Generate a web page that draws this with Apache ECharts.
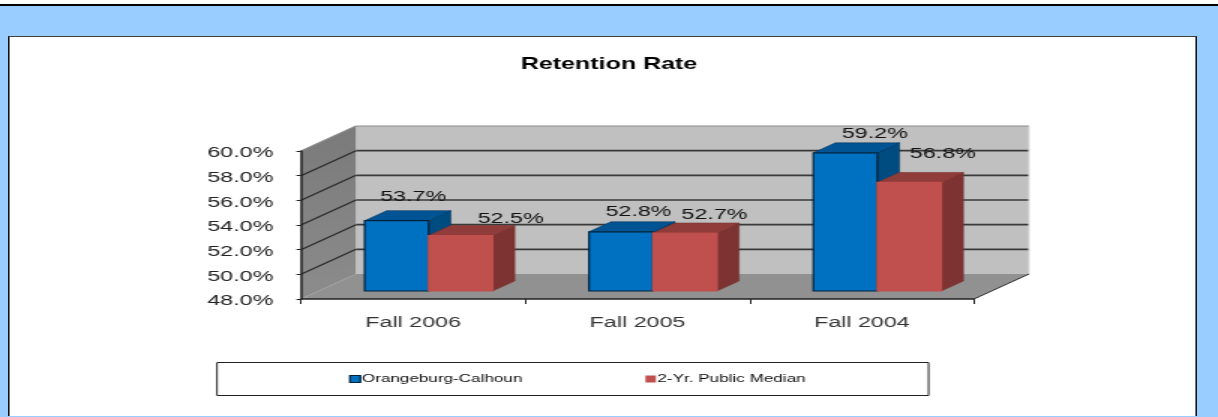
<!DOCTYPE html>
<html>
<head>
<meta charset="utf-8">
<script src="https://cdn.jsdelivr.net/npm/echarts@6/dist/echarts.min.js"></script>
<style>
html,body{margin:0;padding:0;background:#fff;overflow:hidden}
#page{position:absolute;left:0;top:0;width:1218px;height:417px;overflow:hidden;background:#fff}
#band{position:absolute;left:0;top:4px;width:1218px;height:413px;box-sizing:border-box;border-top:2px solid #000;background:#99CCFF}
#panel{position:absolute;left:8px;top:36px;width:1189px;height:380px;box-sizing:border-box;background:#fff;border-top:1px solid #404040;border-left:1px solid #111;border-right:1px solid #111;box-shadow:inset 1px 0 0 #777,inset -1px 0 0 #777}
#chart{position:absolute;left:0;top:0;width:812px;height:417px;transform:scaleX(1.5);transform-origin:0 0}
</style>
</head>
<body>
<div id="page"><div id="band"></div><div id="panel"></div><div id="chart"></div></div>
<script>
const titleText = 'Retention Rate';
const categories = ['Fall 2006', 'Fall 2005', 'Fall 2004'];
const seriesNames = ['Orangeburg-Calhoun', '2-Yr. Public Median'];
const orangeburg = [53.7, 52.8, 59.2];
const publicMedian = [52.5, 52.7, 56.8];
const yTicks = [48, 50, 52, 54, 56, 58, 60];

// The source image is stretched horizontally; the chart is drawn at 1/S width and scaled.
const S = 1.5;
const FONT = '"Liberation Sans", Arial, sans-serif';
const wallDX = 55 / S, wallDY = 25;         // depth of the 3D box
const barOffX = 15.5 / S, barOffY = 8;      // bars stand this far behind the front plane
const barDX = 22 / S, barDY = 10;           // depth of one bar
const barW = 64 / S;

function poly(points, fill, stroke, lw) {
  return { type: 'polygon', shape: { points }, style: { fill, stroke: stroke || null, lineWidth: lw || 0 } };
}
function seg(x1, y1, x2, y2, stroke, lw) {
  return { type: 'line', shape: { x1, y1, x2, y2 }, style: { stroke, lineWidth: lw } };
}

function renderBox(params, api) {
  const c = params.coordSys;
  const L = c.x, R = c.x + c.width, T = c.y, B = c.y + c.height;
  const kids = [
    poly([[L + wallDX, T - wallDY], [R + wallDX, T - wallDY], [R + wallDX, B - wallDY], [L + wallDX, B - wallDY]], '#C0C0C0'),
    poly([[L, B], [L + wallDX, B - wallDY], [R + wallDX, B - wallDY], [R, B]], '#919191'),
    poly([[L, T], [L + wallDX, T - wallDY], [L + wallDX, B - wallDY], [L, B]], {
      type: 'linear', x: 0, y: 0, x2: 0, y2: 1,
      colorStops: [{ offset: 0, color: '#7a7a7a' }, { offset: 1, color: '#8c8c8c' }]
    })
  ];
  yTicks.forEach(t => {
    const y = api.coord([0, t])[1];
    if (t > yTicks[0] && t < yTicks[yTicks.length - 1]) {
      kids.push(seg(L + wallDX, y - wallDY, R + wallDX, y - wallDY, '#3a3a3a', 1.6));
    }
    if (t > yTicks[0]) kids.push(seg(L, y, L + wallDX, y - wallDY, t === yTicks[yTicks.length - 1] ? '#8a8a8a' : '#2a2a2a', 1.2));
  });
  kids.push(seg(L + wallDX, T - wallDY, R + wallDX, T - wallDY, '#8a8a8a', 1));
  kids.push(seg(R + wallDX, T - wallDY, R + wallDX, B - wallDY, '#d8d8d8', 1));
  kids.push(seg(R, B, R + wallDX, B - wallDY, '#2a2a2a', 1));
  return { type: 'group', children: kids };
}

function barRenderer(serieIndex, colors, nudges) {
  return function (params, api) {
    const i = api.value(0), v = api.value(1);
    const bottom = api.coord([i, yTicks[0]]);
    const top = api.coord([i, v]);
    const cx = bottom[0] + barOffX;
    const x0 = serieIndex === 0 ? cx - barW : cx, x1 = x0 + barW;
    const yB = bottom[1] - barOffY, yT = top[1] - barOffY;
    const n = nudges[i];
    return {
      type: 'group',
      children: [
        poly([[x1, yT], [x1 + barDX, yT - barDY], [x1 + barDX, yB - barDY], [x1, yB]], colors.side, colors.edge, 0.6),
        poly([[x0, yT], [x0 + barDX, yT - barDY], [x1 + barDX, yT - barDY], [x1, yT]], colors.top, colors.edge, 0.6),
        { type: 'rect', shape: { x: x0, y: yT, width: barW, height: yB - yT },
          style: { fill: colors.front, stroke: colors.frontEdge, lineWidth: 1.2 } },
        { type: 'text', z2: 10,
          style: { text: v.toFixed(1) + '%', x: (x0 + x1) / 2 + n[0] / S, y: yT + n[1],
            align: 'center', verticalAlign: 'middle', fill: '#111', font: '15.5px ' + FONT } }
      ]
    };
  };
}

const blueStyle = { front: '#0070C0', top: '#005494', side: '#004B80', edge: '#00375f', frontEdge: '#00233d' };
const redStyle = { front: '#C0504D', top: '#903C3A', side: '#7C3331', edge: '#7C3331', frontEdge: '#C0504D' };

const chart = echarts.init(document.getElementById('chart'), null, { renderer: 'canvas', width: 812, height: 417 });
chart.setOption({
  animation: false,
  backgroundColor: 'transparent',
  title: { text: titleText, left: 'center', top: 51,
    textStyle: { fontFamily: FONT, fontSize: 16.7, fontWeight: 'bold', color: '#000' } },
  legend: {
    data: [
      { name: seriesNames[0], itemStyle: { color: blueStyle.front, borderColor: '#00233d', borderWidth: 1.2 } },
      { name: seriesNames[1], itemStyle: { color: redStyle.front } }
    ],
    left: 217 / S, top: 362.5, orient: 'horizontal',
    icon: 'rect', itemWidth: 7, itemHeight: 7, itemGap: 82,
    padding: [11, 82, 11, 88],
    backgroundColor: '#fff', borderColor: '#222', borderWidth: 1, borderRadius: 0,
    textStyle: { fontFamily: FONT, fontSize: 11.4, color: '#111', padding: [0, 0, 0, -4] }
  },
  grid: { left: 301 / S, top: 151, width: 673 / S, height: 148, containLabel: false },
  xAxis: {
    type: 'category', data: categories, z: 10,
    axisLine: { show: true, lineStyle: { color: '#222', width: 1.5 } },
    axisTick: { show: true, alignWithLabel: false, length: 5, lineStyle: { color: '#222', width: 1 } },
    axisLabel: { fontFamily: FONT, fontSize: 15.5, color: '#333', margin: 16 }
  },
  yAxis: {
    type: 'value', min: 48, max: 60, interval: 2, z: 10,
    axisLine: { show: true, lineStyle: { color: '#222', width: 1.5 } },
    axisTick: { show: true, length: 3, lineStyle: { color: '#222', width: 1 } },
    splitLine: { show: false },
    axisLabel: {
      margin: 18.5,
      formatter: v => '{t|' + v.toFixed(1) + '%}',
      rich: { t: { fontFamily: FONT, fontSize: 15.5, color: '#222', padding: [4, 0, 0, 0] } }
    }
  },
  series: [
    { name: 'box', type: 'custom', z: 1, silent: true, data: [[0, 48]], encode: { x: 0, y: 1 }, renderItem: renderBox },
    { name: seriesNames[0], type: 'custom', z: 2, itemStyle: { color: blueStyle.front },
      data: orangeburg.map((v, i) => [i, v]), encode: { x: 0, y: 1 },
      renderItem: barRenderer(0, blueStyle, [[16.5, -24], [17.5, -20], [29.5, -19]]) },
    { name: seriesNames[1], type: 'custom', z: 3, itemStyle: { color: redStyle.front },
      data: publicMedian.map((v, i) => [i, v]), encode: { x: 0, y: 1 },
      renderItem: barRenderer(1, redStyle, [[50, -16.5], [29.5, -18], [33.5, -29]]) }
  ]
});
</script>
</body>
</html>
